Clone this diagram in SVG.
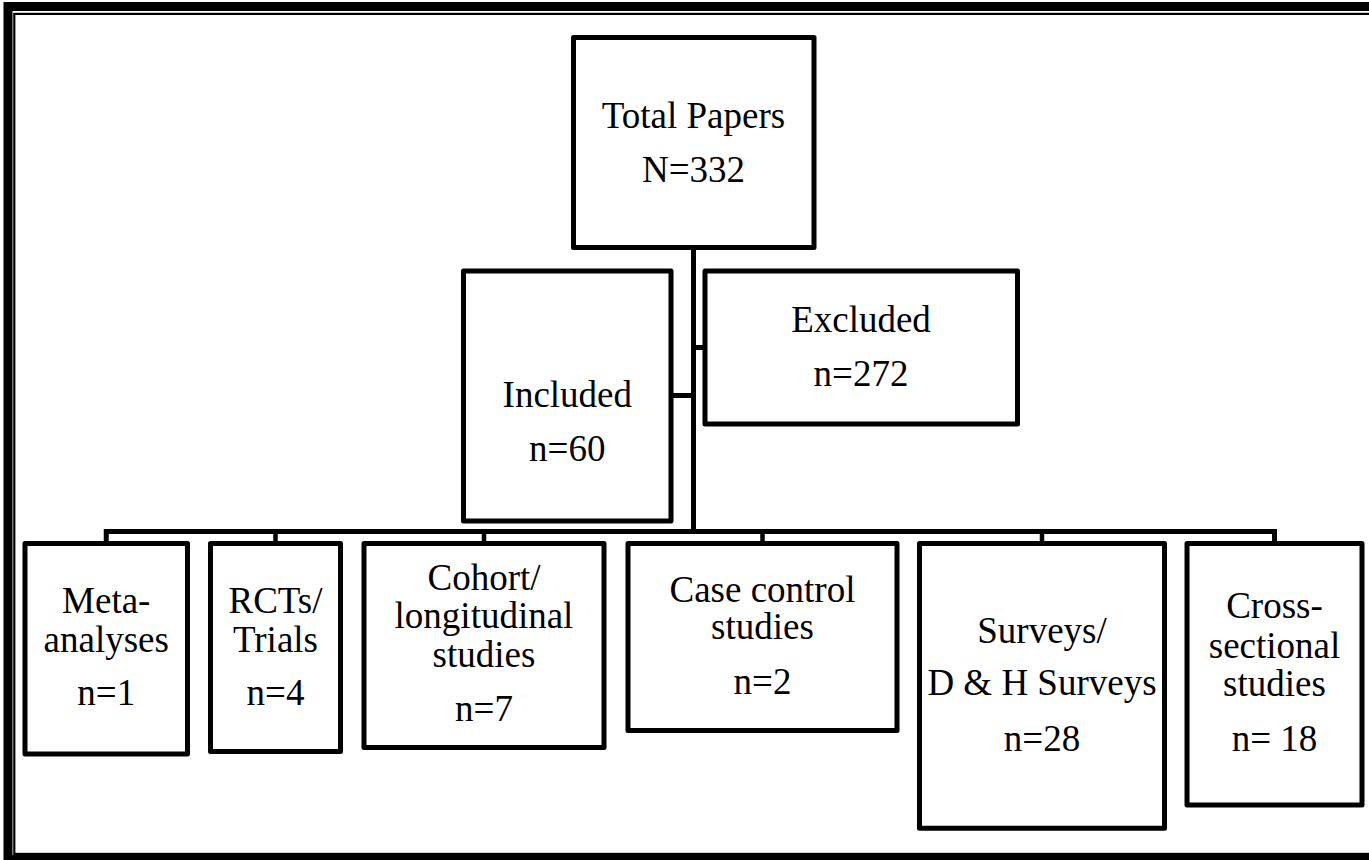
<svg xmlns="http://www.w3.org/2000/svg" width="1369" height="860" viewBox="0 0 1369 860">
<style>
.box{fill:#fff;stroke:#000;stroke-width:5;stroke-linejoin:round}
.con{fill:none;stroke:#000;stroke-width:5}
.drop{fill:none;stroke:#000;stroke-width:4.5}
text{font-family:"Liberation Serif","Times New Roman",serif;font-size:37px;fill:#000;text-anchor:middle}
</style>
<rect width="1369" height="860" fill="#fff"/>
<g id="frame">
<rect x="8" y="6.5" width="1400" height="853" fill="none" stroke="#000" stroke-width="9"/>
<rect x="14.3" y="13.9" width="1400" height="840" fill="none" stroke="#000" stroke-width="2.2"/>
</g>
<g id="connectors">
<line class="con" x1="693.5" y1="248" x2="693.5" y2="534"/>
<line class="con" x1="671" y1="395.5" x2="693.5" y2="395.5"/>
<line class="con" x1="693.5" y1="347.5" x2="705" y2="347.5"/>
<polyline class="con" points="106.25,543 106.25,531.5 1274.5,531.5 1274.5,543"/>
<line class="drop" x1="275.5" y1="531.5" x2="275.5" y2="543"/>
<line class="drop" x1="484" y1="531.5" x2="484" y2="543"/>
<line class="drop" x1="762.5" y1="531.5" x2="762.5" y2="543"/>
<line class="drop" x1="1042" y1="531.5" x2="1042" y2="543"/>
</g>
<g id="total">
<rect class="box" x="573.5" y="37.5" width="240.5" height="210"/>
<text x="693.5" y="128.3">Total Papers</text>
<text x="693.5" y="181.7">N=332</text>
</g>
<g id="included">
<rect class="box" x="463.5" y="271" width="207.5" height="250"/>
<text x="567.3" y="407.3">Included</text>
<text x="567.3" y="460.7">n=60</text>
</g>
<g id="excluded">
<rect class="box" x="705" y="271" width="312.5" height="153"/>
<text x="861" y="331.7">Excluded</text>
<text x="861" y="386">n=272</text>
</g>
<g id="meta">
<rect class="box" x="25" y="543.5" width="162.5" height="210.5"/>
<text x="106.25" y="613.3">Meta-</text>
<text x="106.25" y="651.7">analyses</text>
<text x="106.25" y="705">n=1</text>
</g>
<g id="rcts">
<rect class="box" x="210.5" y="543.5" width="130" height="208"/>
<text x="275.5" y="613.3">RCTs/</text>
<text x="275.5" y="651.7">Trials</text>
<text x="275.5" y="705">n=4</text>
</g>
<g id="cohort">
<rect class="box" x="364" y="543.5" width="240" height="204"/>
<text x="484" y="590">Cohort/</text>
<text x="484" y="628.3">longitudinal</text>
<text x="484" y="667.3">studies</text>
<text x="484" y="720.7">n=7</text>
</g>
<g id="casecontrol">
<rect class="box" x="628" y="543.5" width="269" height="187"/>
<text x="762.5" y="601.7">Case control</text>
<text x="762.5" y="639.3">studies</text>
<text x="762.5" y="694">n=2</text>
</g>
<g id="surveys">
<rect class="box" x="919.5" y="543.5" width="245" height="284.8"/>
<text x="1042" y="643.3">Surveys/</text>
<text x="1042" y="695">D &amp; H Surveys</text>
<text x="1042" y="750.7">n=28</text>
</g>
<g id="crosssectional">
<rect class="box" x="1187" y="543.5" width="175" height="261.5"/>
<text x="1274.5" y="618">Cross-</text>
<text x="1274.5" y="657.7">sectional</text>
<text x="1274.5" y="696">studies</text>
<text x="1274.5" y="750.7">n= 18</text>
</g>
</svg>
